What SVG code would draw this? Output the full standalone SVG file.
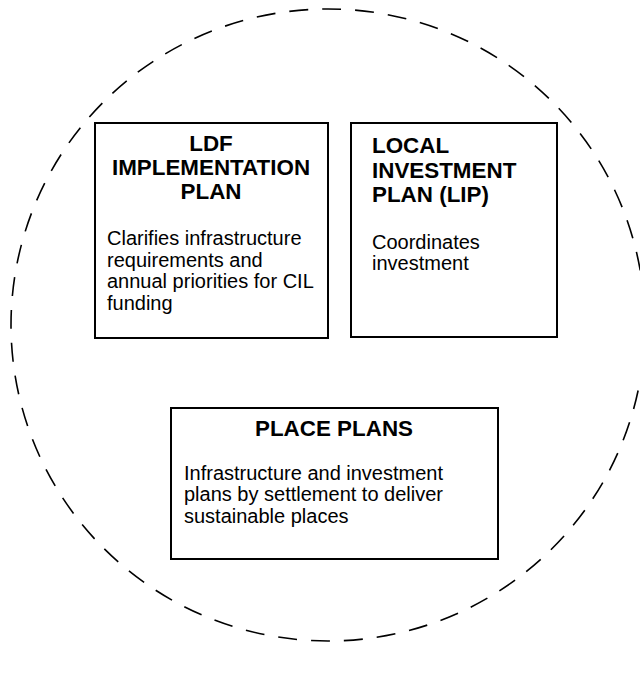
<svg xmlns="http://www.w3.org/2000/svg" width="640" height="679" viewBox="0 0 640 679">
<style>
.box{fill:#fff;stroke:#000;stroke-width:2}
.title{font-family:"Liberation Sans",Arial,sans-serif;font-weight:bold;font-size:22.4px;fill:#000}
.body{font-family:"Liberation Sans",Arial,sans-serif;font-size:20px;fill:#000}
.ring{fill:none;stroke:#000;stroke-width:1.6;stroke-dasharray:19 14}
</style>
<rect width="640" height="679" fill="#fff"/>
<g id="boundary">
<ellipse class="ring" cx="328" cy="325" rx="317" ry="316"/>
</g>
<g id="connectors"></g>
<g id="ldf">
<rect class="box" x="95" y="123" width="233" height="215"/>
<text class="title" text-anchor="middle" x="211" y="151">LDF</text>
<text class="title" text-anchor="middle" x="211" y="175">IMPLEMENTATION</text>
<text class="title" text-anchor="middle" x="211" y="199">PLAN</text>
<text class="body" x="107" y="245">Clarifies infrastructure</text>
<text class="body" x="107" y="266.5">requirements and</text>
<text class="body" x="107" y="288">annual priorities for CIL</text>
<text class="body" x="107" y="309.5">funding</text>
</g>
<g id="lip">
<rect class="box" x="351" y="123" width="206" height="214"/>
<text class="title" x="372" y="153">LOCAL</text>
<text class="title" x="372" y="177.5">INVESTMENT</text>
<text class="title" x="372" y="202">PLAN (LIP)</text>
<text class="body" x="372" y="249">Coordinates</text>
<text class="body" x="372" y="270">investment</text>
</g>
<g id="place">
<rect class="box" x="171" y="408" width="327" height="151"/>
<text class="title" text-anchor="middle" x="334" y="436">PLACE PLANS</text>
<text class="body" x="184" y="479.5">Infrastructure and investment</text>
<text class="body" x="184" y="501">plans by settlement to deliver</text>
<text class="body" x="184" y="523">sustainable places</text>
</g>
</svg>
